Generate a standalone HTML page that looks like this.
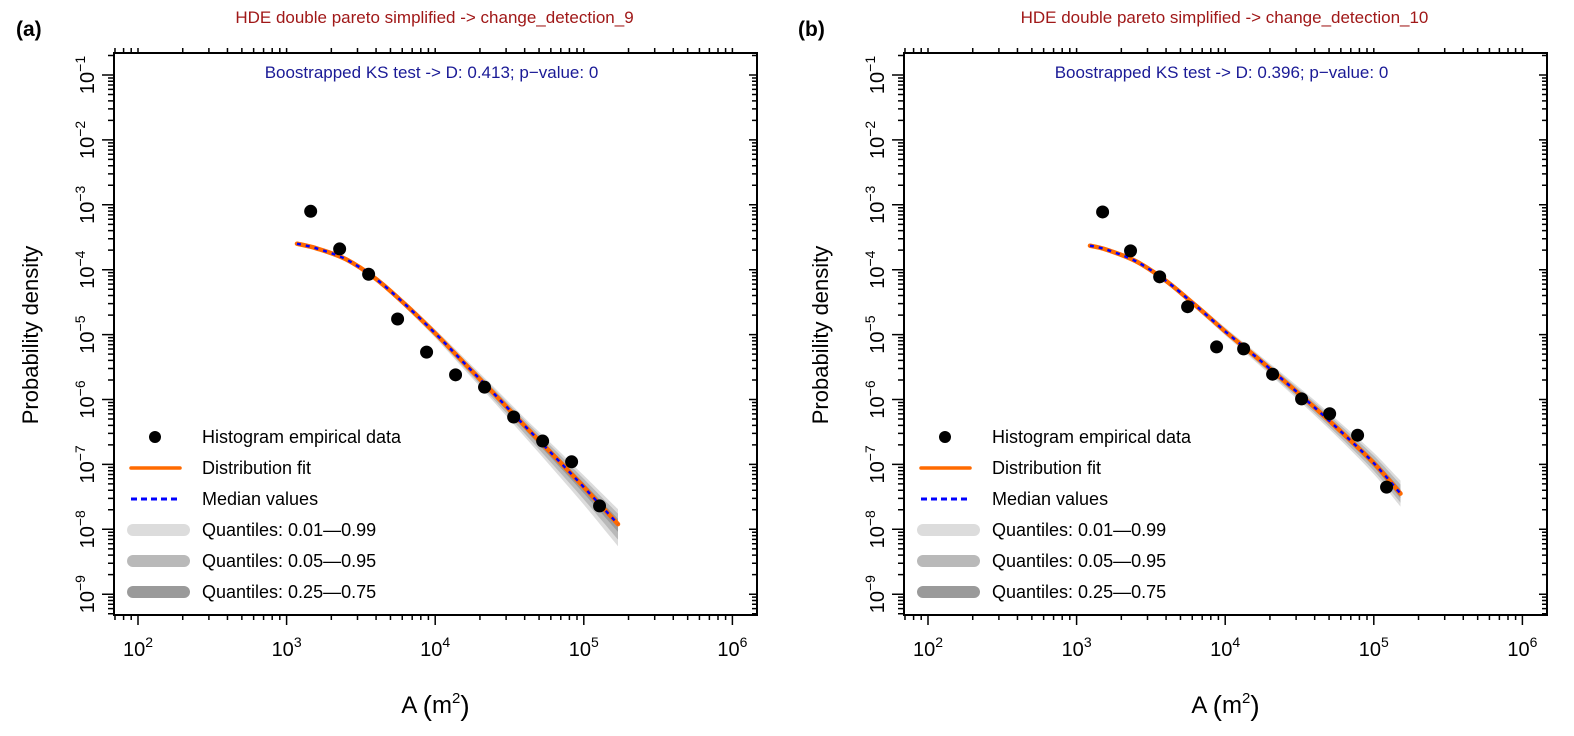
<!DOCTYPE html>
<html><head><meta charset="utf-8"><style>
body{margin:0;background:#fff}
svg{display:block;font-family:"Liberation Sans",sans-serif}
</style></head><body>
<svg id="chart" width="1574" height="736" viewBox="0 0 1574 736" xmlns="http://www.w3.org/2000/svg"></svg>
<script>
// ---- data (log10 values) ----
const dotsAX = [3.162,3.357,3.552,3.747,3.942,4.137,4.332,4.528,4.723,4.918,5.106];
const dotsAY = [-3.10,-3.68,-4.07,-4.76,-5.27,-5.62,-5.81,-6.27,-6.64,-6.96,-7.64];
const fitAX = [3.07,3.2,3.4,3.6,3.8,4.0,4.2,4.4,4.6,4.8,5.0,5.23];
const fitAY = [-3.60,-3.67,-3.84,-4.14,-4.54,-4.98,-5.45,-5.92,-6.40,-6.87,-7.35,-7.92];
const bandAHi = [0.02,0.02,0.03,0.04,0.05,0.06,0.08,0.10,0.12,0.15,0.18,0.23];
const bandALo = [0.02,0.02,0.03,0.04,0.05,0.07,0.10,0.13,0.17,0.22,0.27,0.34];
const dotsBX = [3.175,3.363,3.559,3.747,3.942,4.124,4.319,4.514,4.703,4.891,5.086];
const dotsBY = [-3.11,-3.71,-4.11,-4.57,-5.19,-5.22,-5.61,-5.99,-6.22,-6.55,-7.35];
const fitBX = [3.09,3.2,3.4,3.6,3.8,4.0,4.2,4.4,4.6,4.8,5.0,5.18];
const fitBY = [-3.63,-3.69,-3.87,-4.17,-4.55,-4.95,-5.33,-5.72,-6.12,-6.54,-6.98,-7.45];
const bandBHi = [0.02,0.02,0.03,0.04,0.05,0.06,0.07,0.09,0.11,0.13,0.16,0.20];
const bandBLo = [0.02,0.02,0.03,0.04,0.05,0.06,0.08,0.10,0.12,0.14,0.17,0.20];
const xTickExp = [2,3,4,5,6];
const yTickExp = [-1,-2,-3,-4,-5,-6,-7,-8,-9];
const titles = ["HDE double pareto simplified -> change_detection_9","HDE double pareto simplified -> change_detection_10"];
const ksText = ["Boostrapped KS test -> D: 0.413; p\u2212value: 0","Boostrapped KS test -> D: 0.396; p\u2212value: 0"];
const panelLabels = ["(a)","(b)"];
const legendLabels = ["Histogram empirical data","Distribution fit","Median values","Quantiles: 0.01\u20140.99","Quantiles: 0.05\u20140.95","Quantiles: 0.25\u20140.75"];

const NS="http://www.w3.org/2000/svg";
const svg=document.getElementById('chart');
function mk(tag,attrs,parent){const e=document.createElementNS(NS,tag);for(const k in attrs)e.setAttribute(k,attrs[k]);(parent||svg).appendChild(e);return e;}
function smooth(pts,move){
  let d=(move?'M':'L')+pts[0][0].toFixed(1)+','+pts[0][1].toFixed(1);
  for(let i=0;i<pts.length-1;i++){
    const p0=pts[Math.max(0,i-1)],p1=pts[i],p2=pts[i+1],p3=pts[Math.min(pts.length-1,i+2)];
    const c1=[p1[0]+(p2[0]-p0[0])/6,p1[1]+(p2[1]-p0[1])/6];
    const c2=[p2[0]-(p3[0]-p1[0])/6,p2[1]-(p3[1]-p1[1])/6];
    d+=`C${c1[0].toFixed(1)},${c1[1].toFixed(1)} ${c2[0].toFixed(1)},${c2[1].toFixed(1)} ${p2[0].toFixed(1)},${p2[1].toFixed(1)}`;
  }
  return d;
}

function panel(i,dx,dX,dY,fX,fY,bHi,bLo){
  const L=114+dx,R=757+dx,T=53,B=615;
  const sx=v=>138+dx+(v-2)*148.6;
  const sy=v=>75+(-1-v)*64.9;
  const g=mk('g',{});
  
  
  const fills=['#dcdcdc','#b9b9b9','#9a9a9a'];const sc=[1,0.7,0.35];
  for(let k=0;k<3;k++){
    const up=fX.map((x,j)=>[sx(x),sy(fY[j]+bHi[j]*sc[k])]);
    const lo=fX.map((x,j)=>[sx(x),sy(fY[j]-bLo[j]*sc[k])]).reverse();
    const p=mk('path',{d:smooth(up,true)+smooth(lo,false)+'Z',fill:fills[k],stroke:'none'},g);
    
    
  }
  const ld=smooth(fX.map((x,j)=>[sx(x),sy(fY[j])]),true);
  const fl=mk('path',{d:ld,fill:'none',stroke:'#ff6a00','stroke-width':4.5,'stroke-linecap':'round'},g);
  
  
  const ml=mk('path',{d:ld,fill:'none',stroke:'#0000ff','stroke-width':2.5,'stroke-dasharray':'4,5'},g);
  
  
  dX.forEach((x,j)=>{
    const c=mk('circle',{cx:sx(x),cy:sy(dY[j]),r:6.5,fill:'#000'},g);
    
    
  });
  const box=mk('rect',{x:L,y:T,width:R-L,height:B-T,fill:'none',stroke:'#000','stroke-width':2},g);
  
  
  let td='';
  for(let e=1;e<=6;e++)for(let m=1;m<10;m++){const v=e+Math.log10(m);const x=sx(v);if(x<L||x>R)continue;
    td+=`M${x},${B}V${B+(m==1?10:5)}M${x},${T}V${T-5}`;}
  for(let e=-10;e<=0;e++)for(let m=1;m<10;m++){const v=e+Math.log10(m);const y=sy(v);if(y<T||y>B)continue;
    td+=`M${L},${y}H${L-(m==1?12:6)}M${R},${y}H${R-(m==1?8:5)}`;}
  mk('path',{d:td,stroke:'#000','stroke-width':1.5,fill:'none'},g);
  xTickExp.forEach(e=>{
    const t=mk('text',{x:sx(e),y:656,'font-size':20,'text-anchor':'middle',fill:'#000'},g);
    
    
    t.innerHTML=`10<tspan font-size="14" dy="-9">${e}</tspan>`;
  });
  yTickExp.forEach(e=>{
    const y=sy(e);
    const t=mk('text',{x:0,y:0,'font-size':20,'text-anchor':'middle',fill:'#000',transform:`translate(${L-20},${y}) rotate(-90)`},g);
    
    
    t.innerHTML=`10<tspan font-size="14" dy="-9">\u2212${-e}</tspan>`;
  });
  const cx=(L+R)/2;
  const tt=mk('text',{x:cx-1,y:23,'font-size':17,'text-anchor':'middle',fill:'#a01818'},g);
  tt.textContent=titles[i];
  const ks=mk('text',{x:cx-4,y:78,'font-size':17,'text-anchor':'middle',fill:'#1a1a96'},g);
  ks.textContent=ksText[i];
  const pl=mk('text',{x:16+dx-(i?8:0),y:36,'font-size':21,fill:'#000','font-weight':'bold'},g);
  pl.textContent=panelLabels[i];
  const yl=mk('text',{x:0,y:0,'font-size':22,'text-anchor':'middle',fill:'#000',transform:`translate(${38+dx},335) rotate(-90)`},g);
  yl.textContent='Probability density';
  const xl=mk('text',{x:cx,y:713,'font-size':24,'text-anchor':'middle',fill:'#000'},g);
  
  xl.innerHTML='A <tspan font-size="28" dy="2">(</tspan><tspan dy="-2">m</tspan><tspan font-size="15" dy="-10">2</tspan><tspan font-size="28" dy="12">)</tspan>';
  const lg=mk('g',{},g);
  
  legendLabels.forEach((lab,k)=>{
    const y=437+31*k;const x0=127+dx;
    if(k==0){mk('circle',{cx:x0+28,cy:y,r:6,fill:'#000'},lg);}
    else if(k==1){mk('line',{x1:x0+4,x2:x0+53,y1:y,y2:y,stroke:'#ff6a00','stroke-width':3.5,'stroke-linecap':'round'},lg);}
    else if(k==2){mk('line',{x1:x0+4,x2:x0+53,y1:y,y2:y,stroke:'#0000ff','stroke-width':3,'stroke-dasharray':'6,4'},lg);}
    else{mk('line',{x1:x0+6,x2:x0+57,y1:y,y2:y,stroke:['#dcdcdc','#b9b9b9','#9a9a9a'][k-3],'stroke-width':12,'stroke-linecap':'round'},lg);}
    const t=mk('text',{x:202+dx,y:y+6,'font-size':18,fill:'#000'},lg);
    t.textContent=lab;
  });
}
panel(0,0,dotsAX,dotsAY,fitAX,fitAY,bandAHi,bandALo);
panel(1,790,dotsBX,dotsBY,fitBX,fitBY,bandBHi,bandBLo);
</script>
</body></html>
